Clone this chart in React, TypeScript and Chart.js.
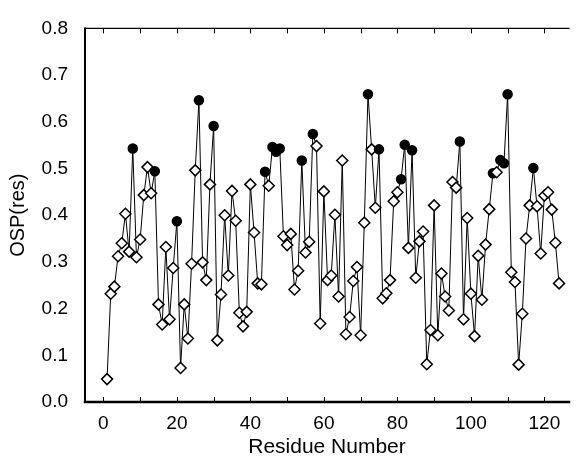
import React, { useEffect, useRef } from "react";
import { Chart, registerables } from "chart.js";
Chart.register(...registerables);

const residues = [
  1, 2, 3, 4, 5, 6, 7, 8, 9, 10, 11, 12, 13, 14, 15, 16, 17, 18, 19, 20,
  21, 22, 23, 24, 25, 26, 27, 28, 29, 30, 31, 32, 33, 34, 35, 36, 37, 38, 39, 40,
  41, 42, 43, 44, 45, 46, 47, 48, 49, 50, 51, 52, 53, 54, 55, 56, 57, 58, 59, 60,
  61, 62, 63, 64, 65, 66, 67, 68, 69, 70, 71, 72, 73, 74, 75, 76, 77, 78, 79, 80,
  81, 82, 83, 84, 85, 86, 87, 88, 89, 90, 91, 92, 93, 94, 95, 96, 97, 98, 99, 100,
  101, 102, 103, 104, 105, 106, 107, 108, 109, 110, 111, 112, 113, 114, 115, 116, 117, 118, 119, 120,
  121, 122, 123, 124,
];

const ospValues = [
  0.049, 0.232, 0.247, 0.312, 0.340, 0.403, 0.322, 0.543, 0.310, 0.348,
  0.443, 0.503, 0.447, 0.494, 0.209, 0.166, 0.332, 0.177, 0.287, 0.387,
  0.073, 0.209, 0.136, 0.296, 0.496, 0.646, 0.299, 0.261, 0.466, 0.591,
  0.132, 0.230, 0.400, 0.271, 0.452, 0.388, 0.191, 0.162, 0.193, 0.466,
  0.363, 0.254, 0.252, 0.493, 0.463, 0.546, 0.536, 0.543, 0.355, 0.336,
  0.360, 0.241, 0.281, 0.517, 0.320, 0.343, 0.574, 0.548, 0.168, 0.451,
  0.261, 0.271, 0.401, 0.226, 0.517, 0.145, 0.182, 0.259, 0.289, 0.143,
  0.384, 0.659, 0.541, 0.416, 0.541, 0.222, 0.233, 0.261, 0.430, 0.449,
  0.477, 0.551, 0.330, 0.539, 0.266, 0.344, 0.365, 0.081, 0.154, 0.421,
  0.143, 0.275, 0.226, 0.196, 0.471, 0.459, 0.558, 0.177, 0.394, 0.232,
  0.141, 0.313, 0.219, 0.337, 0.413, 0.490, 0.492, 0.518, 0.511, 0.659,
  0.278, 0.257, 0.080, 0.189, 0.350, 0.421, 0.501, 0.419, 0.318, 0.442,
  0.449, 0.412, 0.341, 0.254,
];

const filledResidues = [8, 14, 20, 26, 30, 44, 46, 47, 48, 54, 57, 72, 75, 81, 82, 84, 97, 106, 108, 109, 110, 117];

const xTickValues = [0, 20, 40, 60, 80, 100, 120];
const xFrameTicks = [0, 10, 20, 30, 40, 50, 60, 70, 80, 90, 100, 110, 120];
const yTickValues = [0, 0.1, 0.2, 0.3, 0.4, 0.5, 0.6, 0.7, 0.8];

const FONT = "'Liberation Sans', Arial, Helvetica, sans-serif";

const framePlugin = {
  id: "frame",
  afterDatasetsDraw(chart: any) {
    const { ctx, chartArea } = chart;
    const { left, right, top, bottom } = chartArea;
    const xs = chart.scales.x;
    ctx.save();
    ctx.strokeStyle = "#000";
    ctx.lineCap = "square";
    ctx.lineWidth = 1.2;
    ctx.beginPath();
    ctx.moveTo(left, top);
    ctx.lineTo(right, top);
    ctx.stroke();
    ctx.lineWidth = 2;
    ctx.beginPath();
    ctx.moveTo(left, top);
    ctx.lineTo(left, bottom);
    ctx.stroke();
    ctx.lineWidth = 2.5;
    ctx.beginPath();
    ctx.moveTo(left, bottom);
    ctx.lineTo(right, bottom);
    ctx.stroke();
    ctx.lineWidth = 1;
    ctx.lineCap = "butt";
    for (const v of xFrameTicks) {
      const px = Math.round(xs.getPixelForValue(v)) + 0.5;
      ctx.beginPath();
      ctx.moveTo(px, bottom);
      ctx.lineTo(px, bottom - 5);
      ctx.moveTo(px, top);
      ctx.lineTo(px, top + 5);
      ctx.stroke();
    }
    ctx.restore();
  },
};

export default function App() {
  const canvasRef = useRef<HTMLCanvasElement | null>(null);

  useEffect(() => {
    document.body.style.margin = "0";
    const canvas = canvasRef.current;
    if (!canvas) return;
    const filledSet = new Set(filledResidues);
    const isFilled = (i: number) => filledSet.has(residues[i]);

    const chart = new Chart(canvas, {
      type: "line",
      data: {
        datasets: [
          {
            data: residues.map((r, i) => ({ x: r, y: ospValues[i] })),
            borderColor: "#000",
            borderWidth: 1,
            tension: 0,
            fill: false,
            pointStyle: (c: any) => (isFilled(c.dataIndex) ? "circle" : "rectRot"),
            pointRadius: (c: any) => (isFilled(c.dataIndex) ? 4.5 : 5.5),
            pointBackgroundColor: (c: any) => (isFilled(c.dataIndex) ? "#000" : "#fff"),
            pointBorderColor: "#000",
            pointBorderWidth: 1.5,
          } as any,
        ],
      },
      options: {
        animation: false,
        responsive: false,
        devicePixelRatio: 1,
        clip: false as any,
        layout: { padding: { top: 18, right: 0, left: 0, bottom: 0 } },
        plugins: {
          legend: { display: false },
          tooltip: { enabled: false },
        },
        scales: {
          x: {
            type: "linear",
            min: -5,
            max: 126.7,
            grid: { display: false, drawTicks: false },
            border: { display: false },
            afterBuildTicks: (s: any) => {
              s.ticks = xTickValues.map((v) => ({ value: v }));
            },
            afterFit: (s: any) => {
              s.height = 56;
            },
            ticks: {
              color: "#000",
              font: { family: FONT, size: 19 },
              padding: 10,
              maxRotation: 0,
              callback: (v: any) => String(v),
            },
            title: {
              display: true,
              text: "Residue Number",
              color: "#000",
              font: { family: FONT, size: 21, lineHeight: 1 },
              padding: { top: 0, bottom: 0 },
            },
          },
          y: {
            type: "linear",
            min: 0,
            max: 0.8,
            grid: { display: false, drawTicks: false },
            border: { display: false },
            afterBuildTicks: (s: any) => {
              s.ticks = yTickValues.map((v) => ({ value: v }));
            },
            afterFit: (s: any) => {
              s.width = 85;
            },
            ticks: {
              color: "#000",
              font: { family: FONT, size: 19 },
              padding: 17,
              callback: (v: any) => Number(v).toFixed(1),
            },
            title: {
              display: true,
              text: "OSP(res)",
              color: "#000",
              font: { family: FONT, size: 20, lineHeight: 1 },
              padding: { top: 8, bottom: 0 },
            },
          },
        },
      },
      plugins: [framePlugin],
    });
    return () => chart.destroy();
  }, []);

  return (
    <div style={{ width: 576, height: 458, background: "#fff" }}>
      <canvas ref={canvasRef} width={576} height={458} style={{ display: "block" }} />
    </div>
  );
}
